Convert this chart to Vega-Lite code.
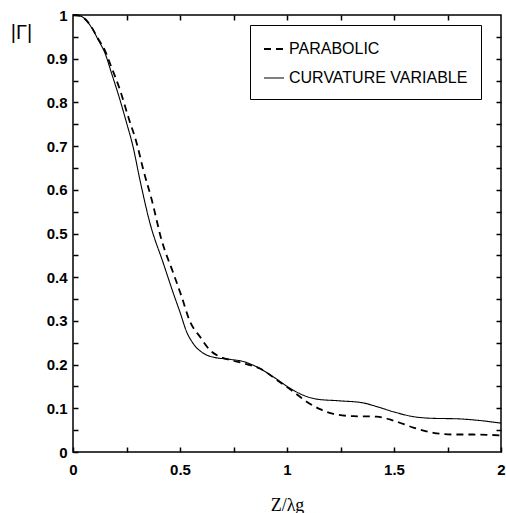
{
  "$schema": "https://vega.github.io/schema/vega-lite/v6.json",
  "width": 428,
  "height": 437,
  "autosize": {"type": "none"},
  "padding": {"left": 73, "top": 15, "right": 5, "bottom": 61},
  "background": "white",
  "config": {
    "view": {"stroke": "black", "strokeWidth": 1.5},
    "font": "Liberation Sans",
    "axis": {
      "domain": false,
      "tickColor": "black",
      "tickWidth": 1.5,
      "tickSize": 5,
      "offset": -5,
      "grid": false,
      "labelColor": "black",
      "labelFont": "Liberation Sans",
      "labelFontSize": 15,
      "labelFontWeight": "bold",
      "titleColor": "black"
    },
    "legend": {
      "orient": "none",
      "legendX": 177,
      "legendY": 10,
      "strokeColor": "black",
      "padding": 13,
      "rowPadding": 10,
      "labelFont": "Liberation Sans",
      "labelFontSize": 16,
      "labelColor": "black",
      "labelLimit": 400,
      "labelOffset": 4,
      "symbolType": "stroke",
      "symbolSize": 400,
      "symbolStrokeColor": "black"
    }
  },
  "data": {
    "values": [
      {"x": 0, "y": 1, "s": "CURVATURE VARIABLE"},
      {"x": 0.033, "y": 0.998, "s": "CURVATURE VARIABLE"},
      {"x": 0.079, "y": 0.977, "s": "CURVATURE VARIABLE"},
      {"x": 0.118, "y": 0.943, "s": "CURVATURE VARIABLE"},
      {"x": 0.15, "y": 0.912, "s": "CURVATURE VARIABLE"},
      {"x": 0.18, "y": 0.867, "s": "CURVATURE VARIABLE"},
      {"x": 0.22, "y": 0.805, "s": "CURVATURE VARIABLE"},
      {"x": 0.251, "y": 0.752, "s": "CURVATURE VARIABLE"},
      {"x": 0.279, "y": 0.702, "s": "CURVATURE VARIABLE"},
      {"x": 0.313, "y": 0.622, "s": "CURVATURE VARIABLE"},
      {"x": 0.36, "y": 0.523, "s": "CURVATURE VARIABLE"},
      {"x": 0.422, "y": 0.432, "s": "CURVATURE VARIABLE"},
      {"x": 0.469, "y": 0.363, "s": "CURVATURE VARIABLE"},
      {"x": 0.5, "y": 0.32, "s": "CURVATURE VARIABLE"},
      {"x": 0.531, "y": 0.275, "s": "CURVATURE VARIABLE"},
      {"x": 0.562, "y": 0.248, "s": "CURVATURE VARIABLE"},
      {"x": 0.609, "y": 0.226, "s": "CURVATURE VARIABLE"},
      {"x": 0.656, "y": 0.217, "s": "CURVATURE VARIABLE"},
      {"x": 0.734, "y": 0.212, "s": "CURVATURE VARIABLE"},
      {"x": 0.796, "y": 0.207, "s": "CURVATURE VARIABLE"},
      {"x": 0.858, "y": 0.195, "s": "CURVATURE VARIABLE"},
      {"x": 0.936, "y": 0.172, "s": "CURVATURE VARIABLE"},
      {"x": 1.014, "y": 0.146, "s": "CURVATURE VARIABLE"},
      {"x": 1.076, "y": 0.13, "s": "CURVATURE VARIABLE"},
      {"x": 1.139, "y": 0.121, "s": "CURVATURE VARIABLE"},
      {"x": 1.248, "y": 0.117, "s": "CURVATURE VARIABLE"},
      {"x": 1.349, "y": 0.113, "s": "CURVATURE VARIABLE"},
      {"x": 1.419, "y": 0.104, "s": "CURVATURE VARIABLE"},
      {"x": 1.497, "y": 0.092, "s": "CURVATURE VARIABLE"},
      {"x": 1.59, "y": 0.081, "s": "CURVATURE VARIABLE"},
      {"x": 1.684, "y": 0.077, "s": "CURVATURE VARIABLE"},
      {"x": 1.793, "y": 0.076, "s": "CURVATURE VARIABLE"},
      {"x": 1.902, "y": 0.072, "s": "CURVATURE VARIABLE"},
      {"x": 2.0, "y": 0.066, "s": "CURVATURE VARIABLE"},
      {"x": 0, "y": 1, "s": "PARABOLIC"},
      {"x": 0.033, "y": 0.998, "s": "PARABOLIC"},
      {"x": 0.079, "y": 0.978, "s": "PARABOLIC"},
      {"x": 0.118, "y": 0.945, "s": "PARABOLIC"},
      {"x": 0.15, "y": 0.918, "s": "PARABOLIC"},
      {"x": 0.173, "y": 0.889, "s": "PARABOLIC"},
      {"x": 0.22, "y": 0.828, "s": "PARABOLIC"},
      {"x": 0.258, "y": 0.767, "s": "PARABOLIC"},
      {"x": 0.298, "y": 0.706, "s": "PARABOLIC"},
      {"x": 0.329, "y": 0.645, "s": "PARABOLIC"},
      {"x": 0.368, "y": 0.577, "s": "PARABOLIC"},
      {"x": 0.414, "y": 0.485, "s": "PARABOLIC"},
      {"x": 0.469, "y": 0.409, "s": "PARABOLIC"},
      {"x": 0.508, "y": 0.355, "s": "PARABOLIC"},
      {"x": 0.547, "y": 0.298, "s": "PARABOLIC"},
      {"x": 0.593, "y": 0.264, "s": "PARABOLIC"},
      {"x": 0.64, "y": 0.233, "s": "PARABOLIC"},
      {"x": 0.687, "y": 0.218, "s": "PARABOLIC"},
      {"x": 0.749, "y": 0.209, "s": "PARABOLIC"},
      {"x": 0.811, "y": 0.201, "s": "PARABOLIC"},
      {"x": 0.874, "y": 0.191, "s": "PARABOLIC"},
      {"x": 0.952, "y": 0.165, "s": "PARABOLIC"},
      {"x": 1.03, "y": 0.138, "s": "PARABOLIC"},
      {"x": 1.092, "y": 0.115, "s": "PARABOLIC"},
      {"x": 1.154, "y": 0.098, "s": "PARABOLIC"},
      {"x": 1.217, "y": 0.087, "s": "PARABOLIC"},
      {"x": 1.31, "y": 0.082, "s": "PARABOLIC"},
      {"x": 1.419, "y": 0.081, "s": "PARABOLIC"},
      {"x": 1.497, "y": 0.072, "s": "PARABOLIC"},
      {"x": 1.59, "y": 0.056, "s": "PARABOLIC"},
      {"x": 1.684, "y": 0.044, "s": "PARABOLIC"},
      {"x": 1.777, "y": 0.04, "s": "PARABOLIC"},
      {"x": 1.87, "y": 0.04, "s": "PARABOLIC"},
      {"x": 2.0, "y": 0.038, "s": "PARABOLIC"}
    ]
  },
  "layer": [
    {
      "mark": {"type": "line", "interpolate": "monotone", "color": "black"},
      "encoding": {
        "x": {
          "field": "x", "type": "quantitative",
          "scale": {"domain": [0, 2], "nice": false},
          "axis": {
            "orient": "bottom",
            "values": [0, 0.25, 0.5, 0.75, 1, 1.25, 1.5, 1.75, 2],
            "labelExpr": "datum.value % 0.5 == 0 ? format(datum.value, '~g') : ''",
            "labelPadding": 10,
            "labelFlush": false,
            "title": "Z/λg",
            "titleFont": "Liberation Serif",
            "titleFontSize": 18,
            "titleFontWeight": "normal",
            "titleBaseline": "middle",
            "titleY": 58
          }
        },
        "y": {
          "field": "y", "type": "quantitative",
          "scale": {"domain": [0, 1], "nice": false},
          "axis": {
            "orient": "left",
            "values": [0, 0.05, 0.1, 0.15, 0.2, 0.25, 0.3, 0.35, 0.4, 0.45, 0.5, 0.55, 0.6, 0.65, 0.7, 0.75, 0.8, 0.85, 0.9, 0.95, 1],
            "labelExpr": "abs(round(datum.value * 10) - datum.value * 10) < 0.001 ? format(datum.value, '.1~f') : ''",
            "labelPadding": 6,
            "labelFlush": false,
            "title": "|Γ|",
            "titleAngle": 0,
            "titleFont": "Liberation Sans",
            "titleFontSize": 20,
            "titleFontWeight": "normal",
            "titleAlign": "center",
            "titleBaseline": "middle",
            "titleX": -57,
            "titleY": 17
          }
        },
        "strokeDash": {
          "field": "s", "type": "nominal",
          "scale": {"domain": ["PARABOLIC", "CURVATURE VARIABLE"], "range": [[7, 5], [1, 0]]},
          "legend": {"title": null}
        },
        "strokeWidth": {
          "field": "s", "type": "nominal",
          "scale": {"domain": ["PARABOLIC", "CURVATURE VARIABLE"], "range": [1.8, 1.1]},
          "legend": {"title": null}
        }
      }
    },
    {
      "mark": {"type": "line", "opacity": 0},
      "encoding": {
        "x": {
          "field": "x", "type": "quantitative",
          "scale": {"domain": [0, 2], "nice": false},
          "axis": {
            "orient": "top",
            "values": [0.25, 0.5, 0.75, 1, 1.25, 1.5, 1.75],
            "labels": false,
            "title": null
          }
        },
        "y": {
          "field": "y", "type": "quantitative",
          "scale": {"domain": [0, 1], "nice": false},
          "axis": {
            "orient": "right",
            "values": [0.05, 0.1, 0.15, 0.2, 0.25, 0.3, 0.35, 0.4, 0.45, 0.5, 0.55, 0.6, 0.65, 0.7, 0.75, 0.8, 0.85, 0.9, 0.95],
            "labels": false,
            "title": null
          }
        },
        "detail": {"field": "s", "type": "nominal"}
      }
    }
  ],
  "resolve": {"scale": {"x": "independent", "y": "independent"}, "axis": {"x": "independent", "y": "independent"}}
}
